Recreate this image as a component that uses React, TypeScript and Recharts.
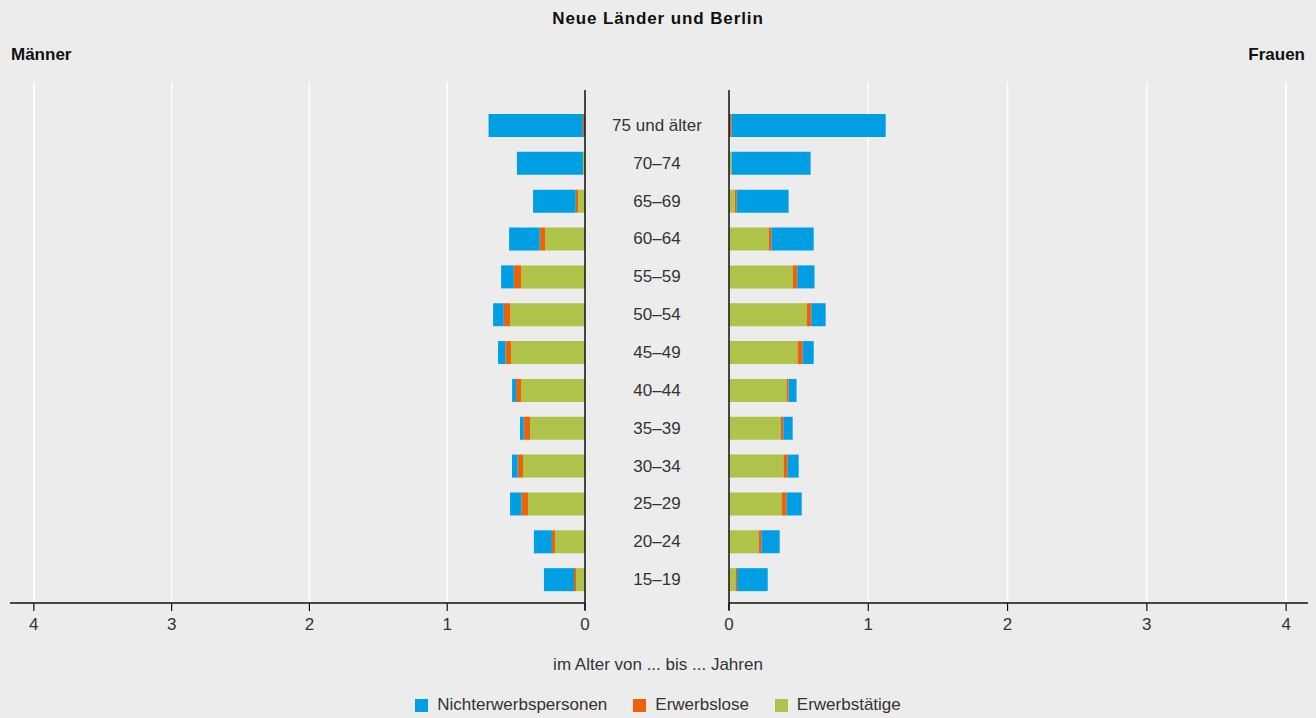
import { Bar, BarChart, CartesianGrid, ReferenceLine, XAxis, YAxis } from "recharts";

const AGE_GROUPS = [
  "75 und älter",
  "70–74",
  "65–69",
  "60–64",
  "55–59",
  "50–54",
  "45–49",
  "40–44",
  "35–39",
  "30–34",
  "25–29",
  "20–24",
  "15–19",
];

// Männer (Mio.)
const MEN_EMPLOYED = [0, 0.015, 0.05, 0.29, 0.464, 0.544, 0.537, 0.464, 0.399, 0.45, 0.414, 0.218, 0.065];
const MEN_UNEMPLOYED = [0.015, 0, 0.017, 0.039, 0.053, 0.046, 0.041, 0.036, 0.046, 0.039, 0.048, 0.022, 0.015];
const MEN_INACTIVE = [0.685, 0.479, 0.31, 0.222, 0.092, 0.077, 0.053, 0.029, 0.027, 0.041, 0.082, 0.131, 0.218];

// Frauen (Mio.)
const WOMEN_EMPLOYED = [0, 0.019, 0.041, 0.285, 0.457, 0.558, 0.493, 0.414, 0.371, 0.392, 0.378, 0.213, 0.048];
const WOMEN_UNEMPLOYED = [0.017, 0, 0.014, 0.019, 0.033, 0.033, 0.036, 0.014, 0.019, 0.029, 0.036, 0.019, 0.01];
const WOMEN_INACTIVE = [1.108, 0.567, 0.373, 0.304, 0.124, 0.103, 0.079, 0.057, 0.067, 0.079, 0.108, 0.132, 0.22];

const X_TICKS = [0, 1, 2, 3, 4];

const SERIES = [
  { key: "inactive", name: "Nichterwerbspersonen", color: "#009fe3" },
  { key: "unemployed", name: "Erwerbslose", color: "#ec6208" },
  { key: "employed", name: "Erwerbstätige", color: "#afc24a" },
];

const MEN = AGE_GROUPS.map((age, i) => ({
  age,
  employed: MEN_EMPLOYED[i],
  unemployed: MEN_UNEMPLOYED[i],
  inactive: MEN_INACTIVE[i],
}));

const WOMEN = AGE_GROUPS.map((age, i) => ({
  age,
  employed: WOMEN_EMPLOYED[i],
  unemployed: WOMEN_UNEMPLOYED[i],
  inactive: WOMEN_INACTIVE[i],
}));

const FONT = '"Liberation Sans", Arial, sans-serif';
const BG = "#ececec";
const TEXT = "#333";
const FS = 17;

// stack order from the zero line outwards
const STACK = ["employed", "unemployed", "inactive"];

function colorOf(key: string) {
  return SERIES.find((s) => s.key === key)!.color;
}

function AgeTick(props: any) {
  return (
    <text x={props.x + 72} y={props.y} dy={5} textAnchor="middle" fontSize={FS} fill={TEXT} fontFamily={FONT}>
      {props.payload.value}
    </text>
  );
}

function ZeroLine(props: any) {
  return <line x1={props.x1} y1={props.y1 + 7} x2={props.x2} y2={props.y2 + 8} stroke="#111" strokeWidth={1.5} />;
}

const axisTick = { fontSize: FS, fill: TEXT, fontFamily: FONT };

// right chart gets a little left margin so the "0" label is not clipped
const RIGHT_PAD = 20;

function Side({ data, left }: { data: typeof MEN; left: boolean }) {
  return (
    <BarChart
      width={left ? 729 : 587 + RIGHT_PAD}
      height={640}
      data={data}
      layout="vertical"
      barSize={23}
      margin={left ? { top: 82, right: 0, left: 10, bottom: 0 } : { top: 82, right: 8, left: RIGHT_PAD, bottom: 0 }}
    >
      <CartesianGrid horizontal={false} verticalValues={[1, 2, 3, 4]} stroke="#ffffff" strokeWidth={1.5} />
      <XAxis
        type="number"
        domain={left ? [0, 4.173] : [0, 4.157]}
        ticks={X_TICKS}
        interval={0}
        reversed={left}
        height={37}
        axisLine={{ stroke: "#111", strokeWidth: 1.5 }}
        tickLine={{ stroke: "#111", strokeWidth: 1.2 }}
        tickSize={8}
        tickMargin={7}
        tick={axisTick}
      />
      {left ? (
        <YAxis
          type="category"
          dataKey="age"
          orientation="right"
          width={144}
          axisLine={false}
          tickLine={false}
          tickSize={0}
          tickMargin={0}
          tick={<AgeTick />}
          padding={{ top: 25, bottom: 4 }}
        />
      ) : (
        <YAxis type="category" dataKey="age" hide padding={{ top: 25, bottom: 4 }} />
      )}
      {STACK.map((key) => (
        <Bar key={key} dataKey={key} stackId="s" fill={colorOf(key)} isAnimationActive={false} />
      ))}
      <ReferenceLine x={0} stroke="#111" shape={<ZeroLine />} />
    </BarChart>
  );
}

export default function App() {
  return (
    <div
      style={{
        position: "absolute",
        left: 0,
        top: 0,
        width: 1316,
        height: 718,
        background: BG,
        fontFamily: FONT,
        overflow: "hidden",
      }}
    >
      <div
        style={{
          position: "absolute",
          top: 9,
          left: 0,
          width: 1316,
          textAlign: "center",
          fontWeight: 700,
          fontSize: 17,
          letterSpacing: 0.9,
          color: "#111",
        }}
      >
        Neue Länder und Berlin
      </div>
      <div style={{ position: "absolute", top: 45, left: 11, fontWeight: 700, fontSize: 17, color: "#111" }}>Männer</div>
      <div style={{ position: "absolute", top: 45, right: 11, fontWeight: 700, fontSize: 17, color: "#111" }}>Frauen</div>

      <div style={{ position: "absolute", left: 0, top: 0 }}>
        <Side data={MEN} left />
      </div>
      <div style={{ position: "absolute", left: 729 - RIGHT_PAD, top: 0 }}>
        <Side data={WOMEN} left={false} />
      </div>

      <div style={{ position: "absolute", top: 655, left: 0, width: 1316, textAlign: "center", fontSize: FS, color: TEXT }}>
        im Alter von ... bis ... Jahren
      </div>
      <div
        style={{
          position: "absolute",
          top: 695,
          left: 0,
          width: 1316,
          display: "flex",
          justifyContent: "center",
          gap: 26,
          fontSize: FS,
          color: TEXT,
        }}
      >
        {SERIES.map((s) => (
          <div key={s.key} style={{ display: "flex", alignItems: "center", gap: 9 }}>
            <span style={{ width: 13, height: 13, background: s.color, display: "inline-block" }} />
            <span>{s.name}</span>
          </div>
        ))}
      </div>
    </div>
  );
}
